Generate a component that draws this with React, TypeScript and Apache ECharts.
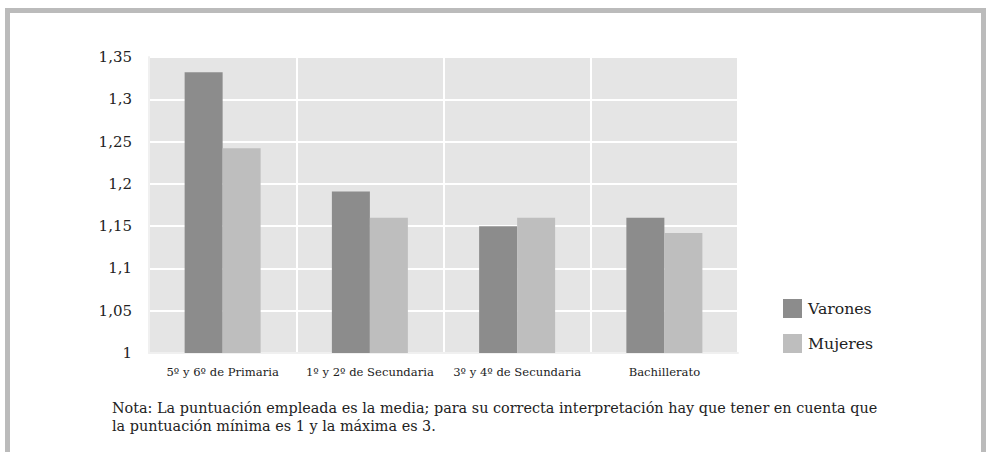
import React, { useEffect, useRef } from "react";
import * as echarts from "echarts";

const categories = ["5º y 6º de Primaria", "1º y 2º de Secundaria", "3º y 4º de Secundaria", "Bachillerato"];
const varones = [1.332, 1.191, 1.15, 1.16];
const mujeres = [1.242, 1.16, 1.16, 1.142];
const seriesNames = ["Varones", "Mujeres"];
const noteLines = [
  "Nota: La puntuación empleada es la media; para su correcta interpretación hay que tener en cuenta que",
  "la puntuación mínima es 1 y la máxima es 3.",
];

const FONT = "'DejaVu Serif', 'Liberation Serif', serif";

export default function App() {
  const ref = useRef<HTMLDivElement>(null);
  useEffect(() => {
    if (!ref.current) return;
    const chart = echarts.init(ref.current, null, { renderer: "svg" });
    chart.setOption({
      animation: false,
      backgroundColor: "#ffffff",
      textStyle: { fontFamily: FONT, color: "#222" },
      grid: {
        left: 149,
        top: 57,
        width: 589,
        height: 296,
        show: true,
        backgroundColor: "#e5e5e5",
        borderColor: "#f0f0f0",
        borderWidth: 1,
      },
      legend: {
        orient: "vertical",
        left: 783,
        top: 299,
        padding: 0,
        itemWidth: 19,
        itemHeight: 19,
        itemGap: 16,
        icon: "rect",
        data: seriesNames,
        textStyle: { fontFamily: FONT, fontSize: 15.7, color: "#222", padding: [0, 0, 0, 1] },
      },
      xAxis: {
        type: "category",
        data: categories,
        axisLine: { show: true, lineStyle: { color: "#f0f0f0", width: 2 } },
        axisTick: { show: false },
        splitLine: { show: true, lineStyle: { color: "#ffffff", width: 2 } },
        axisLabel: { fontFamily: FONT, fontSize: 11.6, color: "#222", margin: 13, interval: 0 },
      },
      yAxis: {
        type: "value",
        min: 1,
        max: 1.35,
        interval: 0.05,
        axisLine: { show: true, lineStyle: { color: "#f0f0f0", width: 2 } },
        axisTick: { show: false },
        splitLine: { show: true, lineStyle: { color: "#ffffff", width: 2 } },
        axisLabel: {
          fontFamily: FONT,
          fontSize: 15,
          color: "#222",
          margin: 17,
          formatter: (v: number) => String(Number(v.toFixed(2))).replace(".", ","),
        },
      },
      series: [
        {
          name: seriesNames[0],
          type: "bar",
          data: varones,
          barWidth: 38,
          barGap: "0%",
          itemStyle: { color: "#8c8c8c" },
        },
        {
          name: seriesNames[1],
          type: "bar",
          data: mujeres,
          barWidth: 38,
          barGap: "0%",
          itemStyle: { color: "#bebebe" },
        },
      ],
      graphic: [
        {
          type: "rect",
          shape: { x: 7.5, y: 10.5, width: 976, height: 520 },
          style: { fill: "none", stroke: "#bbbbbb", lineWidth: 5 },
          silent: true,
        },
        {
          type: "text",
          x: 112,
          y: 399,
          style: {
            text: noteLines.join("\n"),
            fontFamily: FONT,
            fontSize: 14.4,
            fill: "#222",
            lineHeight: 18,
          },
        },
      ],
    });
    return () => chart.dispose();
  }, []);
  return <div ref={ref} style={{ position: "fixed", left: 0, top: 0, width: 986, height: 452 }} />;
}
